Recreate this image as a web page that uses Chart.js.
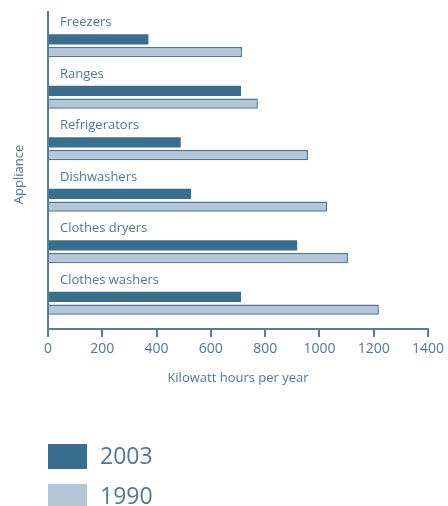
<!DOCTYPE html>
<html>
<head>
<meta charset="utf-8">
<script src="https://cdn.jsdelivr.net/npm/chart.js@4.4.1/dist/chart.umd.min.js"></script>
<style>
  html, body { margin: 0; padding: 0; background: #fff; }
  #wrap { width: 448px; height: 506px; }
</style>
</head>
<body>
<div id="wrap"><canvas id="chart" width="448" height="506"></canvas></div>
<script>
// Data
const categories = ["Freezers", "Ranges", "Refrigerators", "Dishwashers", "Clothes dryers", "Clothes washers"];
const use2003 = [370, 711, 489, 527, 918, 711];
const use1990 = [715, 773, 958, 1028, 1105, 1219];
const xTicks = [0, 200, 400, 600, 800, 1000, 1200, 1400];

const TEXT = "#4e7896";
const AXIS = "#557c99";
const DARK = "#3a6e8f";
const LIGHT = "#b5c6d8";
const FONT = "'Open Sans', sans-serif";

// category names sit above each pair of bars, plus the y axis line runs a bit past the plot top
const labelsPlugin = {
  id: "catLabels",
  afterDatasetsDraw(chart) {
    const { ctx, scales: { x, y }, chartArea } = chart;
    ctx.save();
    ctx.strokeStyle = AXIS;
    ctx.lineWidth = 2;
    ctx.beginPath();
    ctx.moveTo(chartArea.left, chartArea.top - 9);
    ctx.lineTo(chartArea.left, chartArea.bottom);
    ctx.stroke();

    ctx.fillStyle = TEXT;
    ctx.font = "13px " + FONT;
    ctx.textBaseline = "middle";
    ctx.textAlign = "left";
    categories.forEach((c, i) => {
      ctx.fillText(c, x.getPixelForValue(0) + 12, y.getPixelForValue(i) - 23);
    });
    ctx.restore();
  }
};

// big legend stacked under the chart
const legendPlugin = {
  id: "bigLegend",
  afterDraw(chart) {
    const { ctx } = chart;
    ctx.save();
    ctx.font = "23px " + FONT;
    ctx.textBaseline = "middle";
    chart.data.datasets.forEach((ds, i) => {
      const top = 444 + i * 40;
      ctx.fillStyle = ds.backgroundColor;
      ctx.fillRect(48, top, 39, 25);
      ctx.fillStyle = TEXT;
      ctx.fillText(ds.label, 100, top + 13);
    });
    ctx.restore();
  }
};

const chart = new Chart(document.getElementById("chart"), {
  type: "bar",
  data: {
    labels: categories,
    datasets: [
      {
        label: "2003",
        data: use2003,
        backgroundColor: DARK,
        borderWidth: 0,
        categoryPercentage: 0.5,
        barPercentage: 0.8
      },
      {
        label: "1990",
        data: use1990,
        backgroundColor: LIGHT,
        borderColor: "#4d7797",
        borderWidth: 1.5,
        categoryPercentage: 0.5,
        barPercentage: 0.8
      }
    ]
  },
  options: {
    indexAxis: "y",
    responsive: false,
    animation: false,
    layout: { padding: { top: 20, right: 16, bottom: 117, left: 0 } },
    plugins: {
      legend: { display: false },
      tooltip: { enabled: false }
    },
    scales: {
      x: {
        min: 0,
        max: 1400,
        afterBuildTicks: (s) => { s.ticks = xTicks.map(v => ({ value: v })); },
        afterFit: (s) => { s.height = 60; },
        border: { color: AXIS, width: 2 },
        grid: { drawOnChartArea: false, drawTicks: true, tickLength: 8, color: AXIS, lineWidth: 2 },
        ticks: {
          color: TEXT,
          font: { family: FONT, size: 14 },
          padding: 4,
          maxRotation: 0,
          callback: (v) => String(v)
        },
        title: {
          display: true,
          text: "Kilowatt hours per year",
          color: TEXT,
          font: { family: FONT, size: 13 },
          padding: { top: 0, bottom: 3 }
        }
      },
      y: {
        afterFit: (s) => { s.width = 48; },
        border: { display: false },
        grid: { display: false },
        ticks: { display: false },
        title: {
          display: true,
          text: "Appliance",
          color: TEXT,
          font: { family: FONT, size: 13 },
          padding: { top: 11, bottom: 0 }
        }
      }
    }
  },
  plugins: [labelsPlugin, legendPlugin]
});
</script>
</body>
</html>
